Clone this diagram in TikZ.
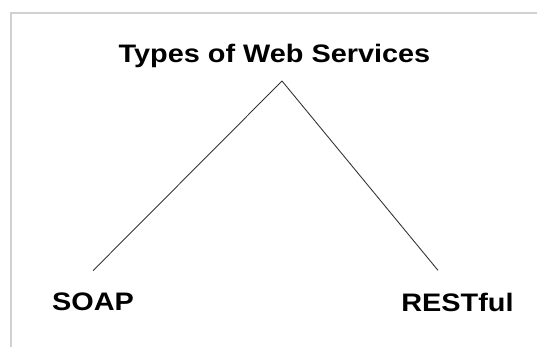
\documentclass[tikz,border=0pt]{standalone}
\usepackage{fontspec}
\setmainfont{Liberation Sans}[FakeStretch=1.14]
\usepackage{tikz}

\begin{document}
\begin{tikzpicture}[every node/.style={font=\bfseries\fontsize{14.4}{16}\selectfont, inner sep=0pt}, branch/.style={draw=black!80, line width=0.5pt}]
	\useasboundingbox (0,0) rectangle (10.74,-6.94);
	\draw[black!18, line width=0.8pt] (0.22,-6.94) -- (0.22,-0.26) -- (10.74,-0.26);
	\node (title) at (5.49,-1.12) {Types of Web Services};
	\coordinate (apex) at (5.64,-1.62);
	\node (soap) at (1.86,-6.04) {SOAP};
	\node (rest) at (9.15,-6.04) {RESTful};
	\draw[branch] (apex) -- ([yshift=0.44cm]soap.north);
	\draw[branch] (apex) -- ([xshift=-0.39cm, yshift=0.44cm]rest.north);
\end{tikzpicture}
\end{document}
